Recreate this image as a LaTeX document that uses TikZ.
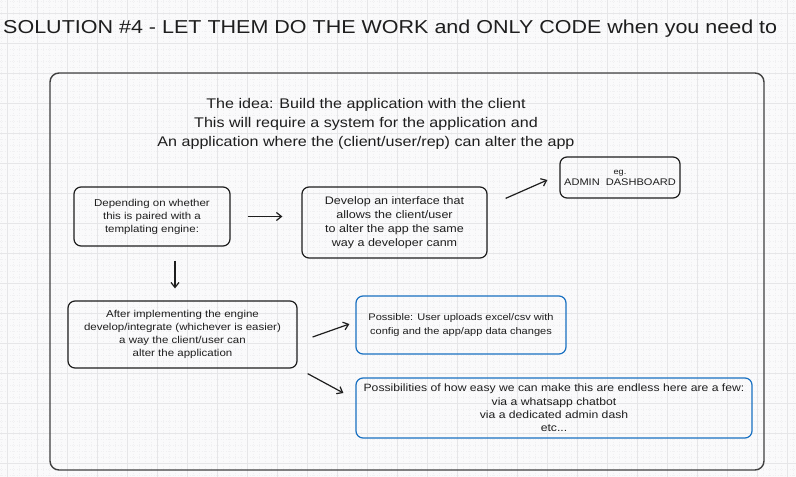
\documentclass[tikz,border=0pt]{standalone}
\usepackage{fontspec}
\setmainfont[FakeStretch=1.15]{Liberation Sans}
\usetikzlibrary{arrows.meta}
\definecolor{ink}{HTML}{1E1E1E}
\definecolor{bluebox}{HTML}{1971C2}
\definecolor{bg}{HTML}{FAFAFB}
\definecolor{gridc}{HTML}{E6E6E8}
\definecolor{gridm}{HTML}{F0F0F2}
\tikzset{
  box/.style={draw=ink, line width=1.2pt, rounded corners=7pt, inner sep=0pt, align=center, text=ink, font=\fontsize{10}{13.5}\selectfont},
  bbox/.style={box, draw=bluebox},
  arr/.style={draw=ink, line width=1.2pt, -{Straight Barb[length=5pt,width=8pt]}},
  frame/.style={draw=ink!85, line width=1.4pt, rounded corners=9pt},
  txt/.style={text=ink, inner sep=0pt, align=center}
}
\begin{document}
\begin{tikzpicture}[x=1pt,y=-1pt]
\fill[bg] (0,0) rectangle (796,477);
\useasboundingbox (0,0) rectangle (796,477);
% minor grid
\foreach \x in {1,7,...,796} \draw[gridm, line width=0.4pt, dotted] (\x,0) -- (\x,477);
\foreach \y in {1,7,...,477} \draw[gridm, line width=0.4pt, dotted] (0,\y) -- (796,\y);
% major grid
\foreach \x in {7,37,...,796} \draw[gridc, line width=0.6pt] (\x,0) -- (\x,477);
\foreach \y in {13,43,...,477} \draw[gridc, line width=0.6pt] (0,\y) -- (796,\y);

\node[txt, anchor=west, font=\fontsize{18.7}{22}\selectfont] (title) at (3,29)
  {SOLUTION \#4 - LET THEM DO THE WORK and ONLY CODE when you need to};

\draw[frame] (50,73) rectangle (764,470);

\node[txt, font=\fontsize{14}{19}\selectfont] (idea) at (366,123.5)
  {The idea: Build the application with the client\\
   This will require a system for the application and\\
   An application where the (client/user/rep) can alter the app};

\node[box, minimum width=156pt, minimum height=59pt, font=\fontsize{10}{13}\selectfont] (b1) at (152,216.5)
  {Depending on whether\\this is paired with a\\templating engine:};
\node[box, minimum width=185pt, minimum height=71pt, font=\fontsize{10.9}{14}\selectfont] (b2) at (394.5,222.5)
  {Develop an interface that\\allows the client/user\\to alter the app the same\\way a developer canm};
\node[box, minimum width=120pt, minimum height=41pt, font=\fontsize{9.6}{11}\selectfont] (b3) at (620,177.5)
  {{\fontsize{8}{10}\selectfont eg.}\\ADMIN\ \ DASHBOARD};
\node[box, minimum width=229pt, minimum height=67pt, font=\fontsize{10}{12.8}\selectfont] (b4) at (182.5,334.5)
  {After implementing the engine\\develop/integrate (whichever is easier)\\a way the client/user can\\alter the application};
\node[bbox, minimum width=210pt, minimum height=58pt, font=\fontsize{9.6}{14}\selectfont] (b5) at (461,325)
  {Possible: User uploads excel/csv with\\config and the app/app data changes\vphantom{g}};
\node[bbox, minimum width=396pt, minimum height=60pt, font=\fontsize{10.6}{13.3}\selectfont] (b6) at (554,408)
  {Possibilities of how easy we can make this are endless here are a few:\\via a whatsapp chatbot\\via a dedicated admin dash\\etc...};

\draw[arr, shorten <=17pt, shorten >=19pt] (b1.east) -- (b1.east -| b2.west);
\draw[arr] ([xshift=18pt,yshift=-12pt]b2.north east) -- ([xshift=-12pt,yshift=-2.5pt]b3.west);
\draw[arr, shorten <=14pt, shorten >=12pt] ([xshift=23pt]b1.south) -- ([xshift=-7.5pt]b4.north);
\draw[arr] ([xshift=15pt,yshift=-2.5pt]b4.east) -- ([xshift=-6pt,yshift=1pt]b5.west);
\draw[arr] ([xshift=10pt,yshift=-5pt]b4.south east) -- ([xshift=-12pt,yshift=15pt]b6.west);
\end{tikzpicture}
\end{document}
